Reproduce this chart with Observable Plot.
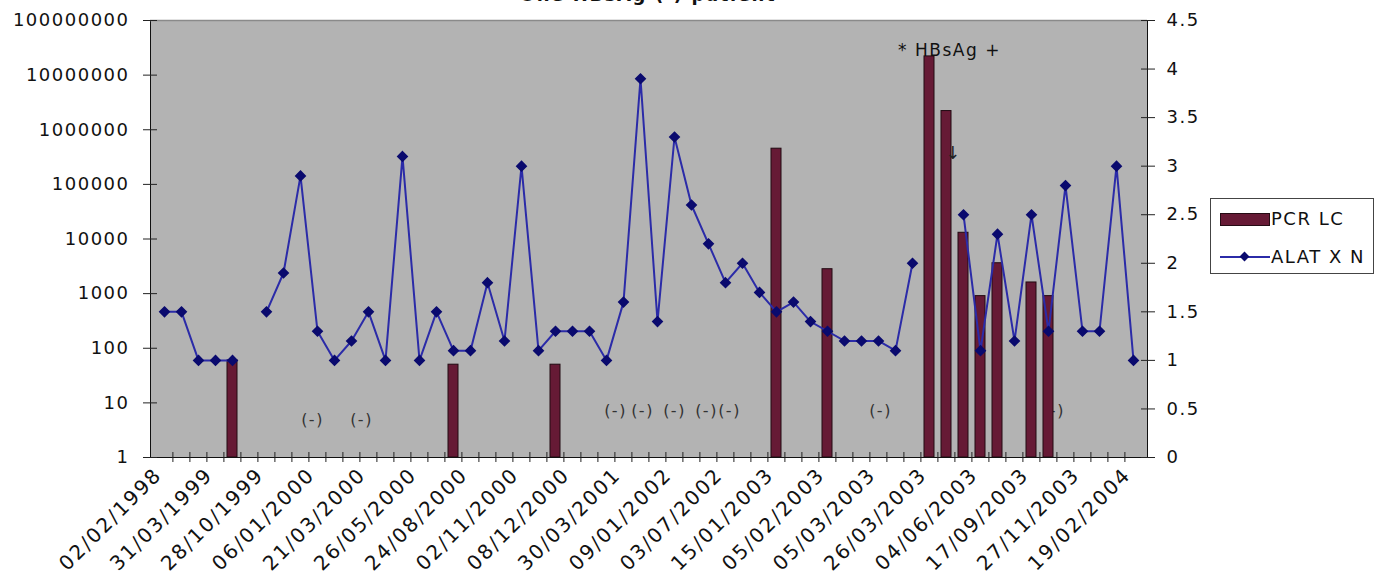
<!DOCTYPE html>
<html>
<head>
<meta charset="utf-8">
<script src="https://cdn.jsdelivr.net/npm/d3@7"></script>
<script src="https://cdn.jsdelivr.net/npm/@observablehq/plot@0.6"></script>
<style>
  body { margin: 0; background: #fff; overflow: hidden; }
  #wrap { position: relative; width: 1379px; height: 578px; overflow: hidden; }
  #title { position: absolute; left: 0; top: -15px; width: 1296px; text-align: center;
           font: bold 18px "DejaVu Sans"; letter-spacing: 1.6px; line-height: 20px; color: #111; white-space: nowrap; }
  #chart { position: absolute; left: 0; top: 0; }
  #legend { position: absolute; left: 1210px; top: 198px; width: 164px; height: 76px;
            border: 1px solid #444; background: #fff; box-sizing: border-box;
            font: 18px "DejaVu Sans"; letter-spacing: 1.5px; color: #111; }
  .sw { position: absolute; left: 9px; top: 14px; width: 50px; height: 13px; background: #661a35; border: 1px solid #250b14; box-sizing: border-box; }
  .ln { position: absolute; left: 9px; top: 57px; width: 50px; height: 2px; background: #2b2ba8; }
  .dm { position: absolute; left: 30px; top: 54px; width: 7px; height: 7px; background: #0a0a6e; transform: rotate(45deg); }
  .t1 { position: absolute; left: 60px; top: 9px; line-height: 22px; }
  .t2 { position: absolute; left: 60px; top: 47px; line-height: 22px; }
</style>
</head>
<body>
<div id="wrap">
  <div id="title">One HBsAg (-) patient</div>
  <div id="chart"></div>
  <div id="legend">
    <div class="sw"></div><div class="t1">PCR LC</div>
    <div class="ln"></div><div class="dm"></div><div class="t2">ALAT X N</div>
  </div>
</div>
<script>
// ---------- data ----------
const categories = d3.range(58); // sample (visit) index along the category axis
const tickLabels = ["02/02/1998","31/03/1999","28/10/1999","06/01/2000","21/03/2000","26/05/2000",
  "24/08/2000","02/11/2000","08/12/2000","30/03/2001","09/01/2002","03/07/2002","15/01/2003",
  "05/02/2003","05/03/2003","26/03/2003","04/06/2003","17/09/2003","27/11/2003","19/02/2004"];
// ALAT x N (right axis)
const alat = [1.5,1.5,1.0,1.0,1.0,null,1.5,1.9,2.9,1.3,
              1.0,1.2,1.5,1.0,3.1,1.0,1.5,1.1,1.1,1.8,
              1.2,3.0,1.1,1.3,1.3,1.3,1.0,1.6,3.9,1.4,
              3.3,2.6,2.2,1.8,2.0,1.7,1.5,1.6,1.4,1.3,
              1.2,1.2,1.2,1.1,2.0,null,null,2.5,1.1,2.3,
              1.2,2.5,1.3,2.8,1.3,1.3,3.0,1.0];
// PCR LC (left log axis)
const pcr = [null,null,null,null,60,null,null,null,null,null,
             null,null,null,null,null,null,null,50,null,null,
             null,null,null,50,null,null,null,null,null,null,
             null,null,null,null,null,null,450000,null,null,2800,
             null,null,null,null,null,22000000,2200000,13000,900,3600,
             null,1600,900,null,null,null,null,null];
const leftTicks = [1,10,100,1000,10000,100000,1000000,10000000,100000000];
const rightTicks = [0,0.5,1,1.5,2,2.5,3,3.5,4,4.5];
const negCats = [9,12,27,28,30,32,33,42,52];   // samples annotated "(-)"
const hbsText = "* HBsAg +";
const hbsCat = 46;

// ---------- layout ----------
const W = 1379, H = 578, mL = 150, mR = 232, mT = 20, mB = 121;
const plotH = H - mT - mB;
const step = (W - mL - mR) / categories.length;
const LOGMAX = 8, RMAX = 4.5;
const toLog = v => (v == null ? NaN : Math.pow(10, v * LOGMAX / RMAX));
const negDx = [-5,-7,-8,2,0,-2,4,2,5];
const negLevel = [4.8,4.8,7,7,7,7,7,7,7];

const rows = categories.map((c, i) => ({c, alat: alat[i], pcr: pcr[i]}));
const negRows = negCats.map((c, k) => ({c, y: negLevel[k], dx: negDx[k]}));

const barColor = "#661a35", lineColor = "#2b2ba8", markColor = "#0a0a6e";

const chart = Plot.plot({
  width: W, height: H,
  marginLeft: mL, marginRight: mR, marginTop: mT, marginBottom: mB,
  style: {fontFamily: "DejaVu Sans", fontSize: "18px", letterSpacing: "1.5px", color: "#111", background: "transparent"},
  x: {type: "band", domain: categories, paddingInner: 0.44, paddingOuter: 0.22},
  y: {type: "log", domain: [1, 1e8]},
  marks: [
    Plot.frame({fill: "#b3b3b3"}),
    // "(-)" notes (drawn under the bars)
    ...negRows.map(r => Plot.text([r], {x: "c", y: "y", text: () => "(-)", dx: r.dx, fontSize: 16, fill: "#333"})),
    Plot.barY(rows.filter(d => d.pcr != null), {x: "c", y1: 1, y2: "pcr", fill: barColor, stroke: "#220a12", strokeWidth: 1}),
    Plot.line(rows, {x: "c", y: d => toLog(d.alat), stroke: lineColor, strokeWidth: 2}),
    Plot.dot(rows.filter(d => d.alat != null), {x: "c", y: d => toLog(d.alat), symbol: "diamond2", r: 4.3, fill: markColor, stroke: markColor}),
    Plot.text([hbsCat], {x: d => d, y: () => 2.8e7, text: () => hbsText, dx: 3, fontSize: 17, fill: "#111"}),
    Plot.text([hbsCat], {x: d => d, y: () => 3.7e5, text: () => "\u2193", dx: 7, fontSize: 18, fill: "#222"}),
    // frame lines
    Plot.frame({stroke: "#111"}),
    Plot.ruleY([1e8], {stroke: "#8a8a8a", strokeWidth: 1.5}),
    // category tick marks between categories, crossing the x axis
    Plot.ruleX(categories.slice(1), {x: d => d, dx: -step / 2, insetTop: plotH - 10, dy: 5, stroke: "#222"}),
    // left axis
    Plot.axisY({anchor: "left", ticks: leftTicks, tickSize: 14, dx: 7, tickFormat: () => "", label: null, stroke: "#222"}),
    Plot.axisY({anchor: "left", ticks: leftTicks, tickSize: 0, tickPadding: 21, tickFormat: d => String(d), label: null, fill: "#111"}),
    // right axis
    Plot.axisY({anchor: "right", ticks: rightTicks.map(toLog), tickSize: 14, dx: -7, tickFormat: () => "", label: null, stroke: "#222"}),
    Plot.text(rightTicks, {y: d => toLog(d), text: d => String(d), frameAnchor: "right", dx: 19, textAnchor: "start", fill: "#111"}),
    // bottom axis labels
    Plot.axisX({ticks: tickLabels.map((_, k) => k * 3), tickSize: 0, tickPadding: 14, dx: -6, tickRotate: -45,
      tickFormat: i => tickLabels[i / 3], label: null, fill: "#111", fontSize: 20})
  ]
});
chart.querySelectorAll("[aria-label='x-axis tick label']").forEach(g => g.style.letterSpacing = "2px");
document.getElementById("chart").appendChild(chart);
</script>
</body>
</html>
